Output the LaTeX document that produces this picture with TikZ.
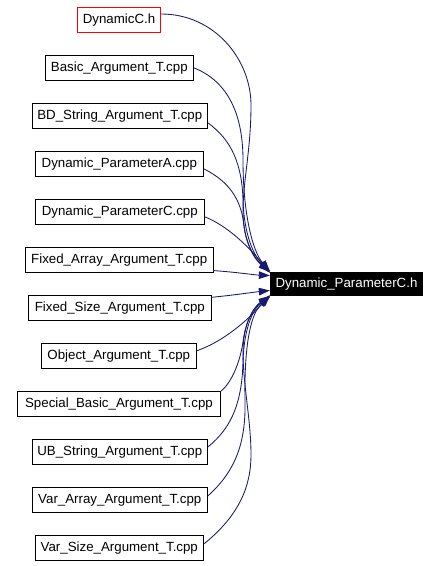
\documentclass[tikz,border=0pt]{standalone}
\usepackage{fontspec}
\setmainfont{Liberation Sans}
\usetikzlibrary{arrows.meta}
\definecolor{navyc}{HTML}{191970}
\begin{document}
\begin{tikzpicture}[x=1pt,y=-1pt,
  file/.style={draw=black, line width=0.9pt, fill=white, inner sep=0pt, minimum height=25pt, font=\fontsize{13.3}{15}\selectfont},
  dep/.style={draw=navyc, line width=0.85pt, -{Triangle[length=11pt,width=7.5pt]}, fill=none}]
\useasboundingbox (0,0) rectangle (440,566);
\fill[white] (0,0) rectangle (440,566);
% source nodes
\node[file, draw=red, minimum width=83.4pt] (dc) at (119,19.8) {DynamicC.h};
\node[file, minimum width=148pt] (ba) at (119.3,67.8) {Basic\_Argument\_T.cpp};
\node[file, minimum width=175pt] (bd) at (119.8,115.8) {BD\_String\_Argument\_T.cpp};
\node[file, minimum width=168pt] (pa) at (119.3,163.8) {Dynamic\_ParameterA.cpp};
\node[file, minimum width=169pt] (pc) at (119.8,211.8) {Dynamic\_ParameterC.cpp};
\node[file, minimum width=187.7pt] (fa) at (119.2,259.8) {Fixed\_Array\_Argument\_T.cpp};
\node[file, minimum width=183pt] (fs) at (119.8,307.8) {Fixed\_Size\_Argument\_T.cpp};
\node[file, minimum width=155pt] (ob) at (118.8,355.8) {Object\_Argument\_T.cpp};
\node[file, minimum width=203.4pt] (sb) at (119,403.8) {Special\_Basic\_Argument\_T.cpp};
\node[file, minimum width=175pt] (ub) at (119.8,451.8) {UB\_String\_Argument\_T.cpp};
\node[file, minimum width=175pt] (va) at (119.8,499.8) {Var\_Array\_Argument\_T.cpp};
\node[file, minimum width=168pt] (vs) at (119.3,547.8) {Var\_Size\_Argument\_T.cpp};
% target
\node[file, fill=black, text=white, minimum width=152.4pt, minimum height=23.4pt] (tg) at (346.5,284) {Dynamic\_ParameterC.h};
% connectors
\draw[dep] ([yshift=5.8pt]dc.east) .. controls (215,14) and (251,60) .. (251,105)
   .. controls (251,150) and (243,180) .. (243,212)
   .. controls (243,242) and (255,260) .. ([yshift=13pt]tg.west);
\draw[dep] (ba.east) .. controls (225,80) and (243,110) .. (243,160)
   .. controls (243,215) and (253,252) .. ([yshift=13pt]tg.west);
\draw[dep] ([yshift=-7pt]bd.east) .. controls (232,140) and (242,165) .. (243,200)
   .. controls (244,235) and (254,256) .. ([yshift=12pt]tg.west);
\draw[dep] ([yshift=-5pt]pc.east) .. controls (228,226) and (250,248) .. ([yshift=11pt]tg.west);
\draw[dep] ([yshift=-5pt]pa.east) .. controls (230,182) and (241,200) .. (244,225)
   .. controls (246,245) and (256,260) .. ([yshift=12pt]tg.west);
\draw[dep] ([yshift=-10.8pt]fa.east) .. controls (235,272) and (255,275) .. ([yshift=8.5pt]tg.west);
\draw[dep] ([yshift=10.5pt]fs.east) .. controls (235,295) and (255,292) .. ([yshift=-6.5pt]tg.west);
\draw[dep] ([yshift=5pt]ob.east) .. controls (225,341) and (250,318) .. ([yshift=-11pt]tg.west);
\draw[dep] ([yshift=12.8pt]sb.east) .. controls (232,382) and (240,362) .. (243,342)
   .. controls (246,318) and (255,306) .. ([yshift=-12pt]tg.west);
\draw[dep] ([yshift=4.8pt]ub.east) .. controls (233,427) and (242,400) .. (243,362)
   .. controls (244,326) and (254,308) .. ([yshift=-12pt]tg.west);
\draw[dep] ([yshift=3.8pt]va.east) .. controls (237,470) and (246,440) .. (245,400)
   .. controls (244,340) and (252,312) .. ([yshift=-13pt]tg.west);
\draw[dep] ([yshift=3.8pt]vs.east) .. controls (240,515) and (251,485) .. (251,455)
   .. controls (251,420) and (243,385) .. (243,352)
   .. controls (243,322) and (255,306) .. ([yshift=-13pt]tg.west);
\end{tikzpicture}
\end{document}
